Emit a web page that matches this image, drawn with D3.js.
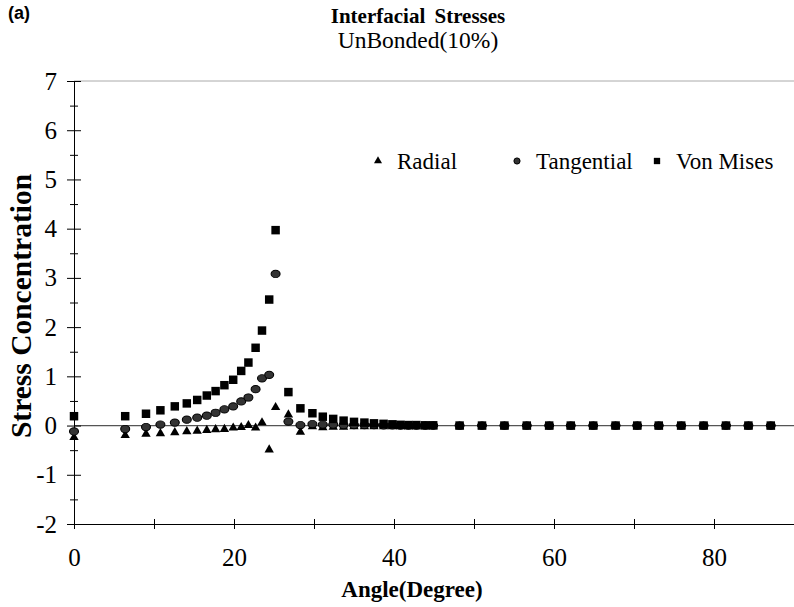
<!DOCTYPE html>
<html>
<head>
<meta charset="utf-8">
<script src="https://cdn.jsdelivr.net/npm/d3@7"></script>
<style>
  body { margin: 0; background: #fff; }
  svg { display: block; }
</style>
</head>
<body>
<svg id="chart" width="794" height="607"></svg>
<script>
// angle positions (degree)
const angles = [0, 6.4, 9.0, 10.8, 12.6, 14.1, 15.4, 16.6, 17.7, 18.8, 19.9, 20.9, 21.8, 22.7, 23.5, 24.4, 25.2,
  26.8, 28.3, 29.8, 31.1, 32.4, 33.7, 35.0, 36.3, 37.5, 38.7, 39.8, 40.8, 41.8, 42.8, 43.9, 44.9,
  48.2, 51.0, 53.8, 56.6, 59.4, 62.1, 64.9, 67.7, 70.4, 73.1, 75.9, 78.7, 81.5, 84.3, 87.1];

const radial = [-0.22, -0.18, -0.15, -0.14, -0.12, -0.10, -0.09, -0.075, -0.06, -0.055, -0.025, -0.015, 0.025, -0.025, 0.08, -0.47, 0.39,
  0.24, -0.11, 0.0, -0.02, -0.01, -0.01, 0, 0, 0, 0, 0, 0, 0, 0, 0, 0,
  0, 0, 0, 0, 0, 0, 0, 0, 0, 0, 0, 0, 0, 0, 0];

const tangential = [-0.12, -0.07, -0.03, 0.02, 0.06, 0.12, 0.16, 0.20, 0.26, 0.33, 0.39, 0.49, 0.57, 0.74, 0.96, 1.03, 3.08,
  0.08, 0.01, 0.03, 0.02, 0.02, 0.01, 0.01, 0.01, 0.01, 0.005, 0.005, 0, 0, 0, 0, 0,
  0, 0, 0, 0, 0, 0, 0, 0, 0, 0, 0, 0, 0, 0, 0];

const vonMises = [0.19, 0.19, 0.24, 0.31, 0.39, 0.45, 0.52, 0.61, 0.70, 0.82, 0.93, 1.11, 1.28, 1.58, 1.93, 2.56, 3.97,
  0.68, 0.35, 0.25, 0.18, 0.135, 0.10, 0.075, 0.06, 0.045, 0.035, 0.025, 0.015, 0.01, 0.01, 0.005, 0.005,
  0, 0, 0, 0, 0, 0, 0, 0, 0, 0, 0, 0, 0, 0, 0];

const xTicks = [0, 10, 20, 30, 40, 50, 60, 70, 80];
const xLabels = [0, 20, 40, 60, 80];
const yTicks = [-2, -1, 0, 1, 2, 3, 4, 5, 6, 7];
const yMinor = [-1.5, -0.5, 0.5, 1.5, 2.5, 3.5, 4.5, 5.5, 6.5];
const legendNames = ['Radial', 'Tangential', 'Von Mises'];

const svg = d3.select('#chart');
const serif = '"Liberation Serif", "Times New Roman", serif';

const x = d3.scaleLinear().domain([0, 90]).range([74, 794]);
const y = d3.scaleLinear().domain([-2, 7]).range([524, 81]);

// top border and zero line (gray)
svg.append('line')
  .attr('x1', x(0)).attr('x2', 794)
  .attr('y1', y(7)).attr('y2', y(7))
  .attr('stroke', '#aaa').attr('stroke-width', 1);
svg.append('line')
  .attr('x1', x(0)).attr('x2', 794)
  .attr('y1', y(0)).attr('y2', y(0))
  .attr('stroke', '#555').attr('stroke-width', 1.2);

// x axis at the bottom
const xAxis = svg.append('g')
  .attr('transform', `translate(0, ${y(-2)})`)
  .call(d3.axisBottom(x).tickValues(xTicks).tickSize(5).tickSizeOuter(0).tickFormat(d => xLabels.includes(d) ? d : ''));
xAxis.select('.domain').attr('stroke', '#000');
xAxis.selectAll('.tick line').attr('y1', -5).attr('y2', 5);
xAxis.selectAll('.tick text')
  .attr('y', 42).attr('dy', 0)
  .style('font-family', serif).style('font-size', '25px').attr('fill', '#000');

// y axis
const yAxis = svg.append('g')
  .attr('transform', `translate(${x(0)}, 0)`)
  .call(d3.axisLeft(y).tickValues(yTicks).tickSize(7).tickSizeOuter(0).tickFormat(d => String(d)));
yAxis.select('.domain').attr('stroke', '#000');
yAxis.selectAll('.tick line').attr('x1', 7).attr('x2', -7);
yAxis.selectAll('.tick text')
  .attr('x', -17)
  .style('font-family', serif).style('font-size', '25px').attr('fill', '#000');

const yMinorAxis = svg.append('g')
  .attr('transform', `translate(${x(0)}, 0)`)
  .call(d3.axisLeft(y).tickValues(yMinor).tickSize(4).tickFormat(''));
yMinorAxis.select('.domain').remove();
yMinorAxis.selectAll('.tick line').attr('x1', 4).attr('x2', -4);

// markers
const triSym = d3.symbol().type(d3.symbolTriangle);
const cirSym = d3.symbol().type(d3.symbolCircle);
const sqSym = d3.symbol().type(d3.symbolSquare);

const pts = angles.map((a, i) => ({ a, r: radial[i], t: tangential[i], v: vonMises[i] }));

svg.append('g').selectAll('path')
  .data(pts)
  .enter()
  .append('path')
  .attr('d', triSym.size(38)())
  .attr('transform', d => `translate(${x(d.a)}, ${y(d.r) + 1})`)
  .attr('fill', '#000');

svg.append('g').selectAll('path')
  .data(pts)
  .enter()
  .append('path')
  .attr('d', cirSym.size(52)())
  .attr('transform', d => `translate(${x(d.a)}, ${y(d.t)}) scale(1.1, 0.9)`)
  .attr('fill', '#333')
  .attr('stroke', '#000')
  .attr('stroke-width', 1);

svg.append('g').selectAll('path')
  .data(pts)
  .enter()
  .append('path')
  .attr('d', sqSym.size(72)())
  .attr('transform', d => `translate(${x(d.a)}, ${y(d.v)})`)
  .attr('fill', '#000');

// legend
const legend = svg.append('g');
const legendX = [378, 517, 657];
const legendSyms = [triSym.size(28)(), cirSym.size(30)(), sqSym.size(40)()];
legendNames.forEach((name, i) => {
  legend.append('path')
    .attr('d', legendSyms[i])
    .attr('transform', `translate(${legendX[i]}, 161)`)
    .attr('fill', i === 1 ? '#333' : '#000')
    .attr('stroke', i === 1 ? '#000' : 'none');
  legend.append('text')
    .attr('x', legendX[i] + 19)
    .attr('y', 169)
    .style('font-family', serif)
    .style('font-size', '23px')
    .text(name);
});

// titles
svg.append('text')
  .attr('x', 8).attr('y', 19)
  .style('font-family', '"Liberation Sans", Arial, sans-serif')
  .style('font-size', '18px').style('font-weight', 'bold')
  .text('(a)');

svg.append('text')
  .attr('x', 418).attr('y', 23)
  .style('text-anchor', 'middle')
  .style('font-family', serif)
  .style('font-size', '21px').style('font-weight', 'bold')
  .style('word-spacing', '4px')
  .text('Interfacial Stresses');

svg.append('text')
  .attr('x', 418).attr('y', 48)
  .style('text-anchor', 'middle')
  .style('font-family', serif)
  .style('font-size', '23.5px')
  .text('UnBonded(10%)');

// axis titles
svg.append('text')
  .attr('x', 412).attr('y', 597)
  .style('text-anchor', 'middle')
  .style('font-family', serif)
  .style('font-size', '23px').style('font-weight', 'bold')
  .text('Angle(Degree)');

svg.append('text')
  .attr('transform', 'rotate(-90)')
  .attr('x', -306).attr('y', 31)
  .style('text-anchor', 'middle')
  .style('font-family', serif)
  .style('font-size', '29.5px').style('font-weight', 'bold')
  .text('Stress Concentration');
</script>
</body>
</html>
